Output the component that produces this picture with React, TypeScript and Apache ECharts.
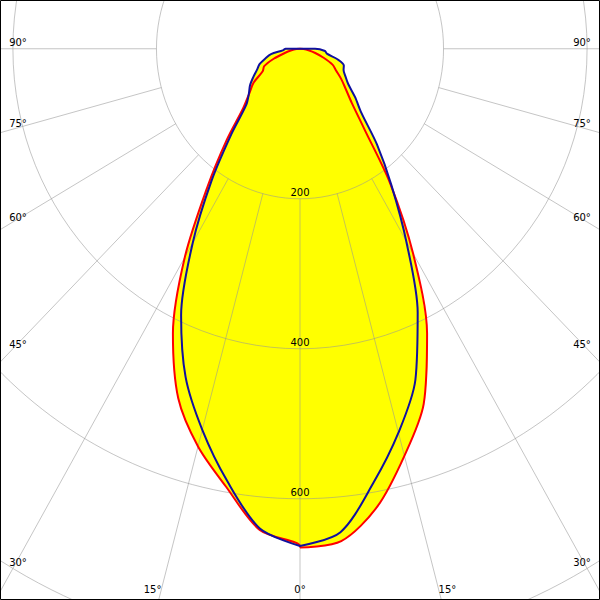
import React, { useEffect, useRef } from "react";
import * as echarts from "echarts";

// Gamma angles (degrees from nadir)
const GAMMA = [0, 5, 10, 15, 20, 25, 30, 35, 40, 45, 50, 55, 60, 65, 70, 75, 80, 85, 90];
// Luminous intensity (cd) – red curve, C0 (right) and C180 (left)
const C0 = [665, 659, 620, 562, 504, 419, 315, 219, 139, 102, 83, 70, 58, 50, 35, 22, 12, 5, 0];
const C180 = [663, 644, 593, 549, 496, 419, 321, 225, 159, 112, 92, 79, 60, 55, 39, 22, 12, 5, 0];
// Blue curve, C90 (right) and C270 (left)
const C90 = [663, 647, 588, 530, 470, 388, 296, 222, 167, 121, 100, 82, 73, 67, 65, 54, 38, 35, 21];
const C270 = [663, 642, 585, 526, 466, 392, 299, 215, 149, 106, 93, 85, 75, 66, 60, 50, 41, 24, 20];

// Grid
const RINGS = [200, 400, 600, 800, 1000];
const RING_LABELS = [200, 400, 600];
const RAY_ANGLES = [-90, -75, -60, -45, -30, -15, 0, 15, 30, 45, 60, 75, 90];

// Axis extents (cd)
const X_MAX = 418;
const Y_MAX = 65;
const Y_MIN = -735;

const FONT = '10px "DejaVu Sans", Verdana, sans-serif';
const GRID_COLOR = "rgba(150,150,150,0.55)";

const rad = (d: number) => (d * Math.PI) / 180;

function closedCurve(right: number[], left: number[]): number[][] {
  const pts: number[][] = [];
  GAMMA.forEach((g, i) => {
    const a = rad(g);
    pts.push([right[i] * Math.sin(a), -right[i] * Math.cos(a)]);
  });
  for (let i = GAMMA.length - 1; i >= 0; i--) {
    const a = rad(GAMMA[i]);
    pts.push([-left[i] * Math.sin(a), -left[i] * Math.cos(a)]);
  }
  pts.push(pts[0]);
  return pts;
}

export default function App() {
  const ref = useRef<HTMLDivElement>(null);

  useEffect(() => {
    if (!ref.current) return;
    const chart = echarts.init(ref.current, undefined, { renderer: "svg" });
    const red = closedCurve(C0, C180);
    const blue = closedCurve(C90, C270);
    const SMOOTH = 0.3;

    chart.setOption({
      animation: false,
      backgroundColor: "#ffffff",
      grid: { left: 0, right: 0, top: 0, bottom: 0 },
      xAxis: { type: "value", min: -X_MAX, max: X_MAX, show: false },
      yAxis: { type: "value", min: Y_MIN, max: Y_MAX, show: false },
      tooltip: { show: false },
      series: [
        {
          type: "custom",
          name: "fill",
          silent: true,
          z: 1,
          data: [[0, 0]],
          renderItem: (_p: any, api: any) => ({
            type: "group",
            children: [red, blue].map((pts) => ({
              type: "polygon",
              shape: { points: pts.map((p) => api.coord(p)), smooth: SMOOTH },
              style: { fill: "#ffff00", stroke: null },
            })),
          }),
        },
        {
          type: "custom",
          name: "rings",
          silent: true,
          z: 2,
          data: RINGS.map((r) => [r, 0]),
          renderItem: (_p: any, api: any) => {
            const r = api.value(0);
            const c = api.coord([0, 0]);
            const s = api.size([r, r]);
            return {
              type: "ellipse",
              shape: { cx: c[0], cy: c[1], rx: s[0], ry: s[1] },
              style: { fill: "none", stroke: GRID_COLOR, lineWidth: 1 },
            };
          },
        },
        {
          type: "custom",
          name: "rays",
          silent: true,
          z: 2,
          data: RAY_ANGLES.map((g) => [g, 0]),
          renderItem: (_p: any, api: any) => {
            const a = rad(api.value(0));
            const r0 = RINGS[0];
            const r1 = 2000;
            const p0 = api.coord([r0 * Math.sin(a), -r0 * Math.cos(a)]);
            const p1 = api.coord([r1 * Math.sin(a), -r1 * Math.cos(a)]);
            return {
              type: "line",
              shape: { x1: p0[0], y1: p0[1], x2: p1[0], y2: p1[1] },
              style: { stroke: GRID_COLOR, lineWidth: 1 },
            };
          },
        },
        {
          type: "line",
          name: "C0-C180",
          data: red,
          symbol: "none",
          smooth: SMOOTH,
          z: 3,
          lineStyle: { color: "#ff0000", width: 2 },
        },
        {
          type: "line",
          name: "C90-C270",
          data: blue,
          symbol: "none",
          smooth: SMOOTH,
          z: 4,
          lineStyle: { color: "#1010a0", width: 2 },
        },
        {
          type: "custom",
          name: "ringLabels",
          silent: true,
          z: 5,
          data: RING_LABELS.map((r) => [r, 0]),
          renderItem: (_p: any, api: any) => {
            const r = api.value(0);
            const p = api.coord([0, -r]);
            return {
              type: "text",
              x: p[0],
              y: p[1] - 1,
              style: { text: String(r), fill: "#000000", stroke: "none", font: FONT, align: "center", verticalAlign: "bottom" },
            };
          },
        },
        {
          type: "custom",
          name: "angleLabels",
          silent: true,
          z: 5,
          data: RAY_ANGLES.map((g) => [g, 0]),
          renderItem: (params: any, api: any) => {
            const g = api.value(0);
            const a = rad(Math.abs(g));
            const side = Math.sign(g);
            const cs = params.coordSys;
            const c = api.coord([0, 0]);
            const ux = api.size([1, 0])[0];
            const uy = api.size([0, 1])[1];
            const dx = side * Math.sin(a) * ux;
            const dy = Math.cos(a) * uy;
            const left = cs.x + 18;
            const right = cs.x + cs.width - 18;
            const bottom = cs.y + cs.height - 11;
            let x: number, y: number, align: string;
            const tSide = dx !== 0 ? ((side < 0 ? left : right) - c[0]) / dx : Infinity;
            if (dx !== 0 && c[1] + tSide * dy <= bottom) {
              x = side < 0 ? left : right;
              y = c[1] + tSide * dy - 6 + 0.15 * (90 - Math.abs(g));
              align = "center";
            } else {
              const tb = (bottom - c[1]) / dy;
              x = c[0] + tb * dx;
              y = bottom;
              align = g < 0 ? "right" : g > 0 ? "left" : "center";
            }
            return {
              type: "text",
              x,
              y,
              style: { text: `${Math.abs(g)}°`, fill: "#000000", stroke: "none", font: FONT, align, verticalAlign: "middle" },
            };
          },
        },
      ],
      graphic: [
        {
          type: "rect",
          z: 100,
          silent: true,
          shape: { x: 0.5, y: 0.5, width: 599, height: 599 },
          style: { fill: "none", stroke: "#000", lineWidth: 1 },
        },
      ],
    });

    return () => chart.dispose();
  }, []);

  return (
    <div
      ref={ref}
      style={{ position: "absolute", left: 0, top: 0, width: 600, height: 600 }}
    />
  );
}
